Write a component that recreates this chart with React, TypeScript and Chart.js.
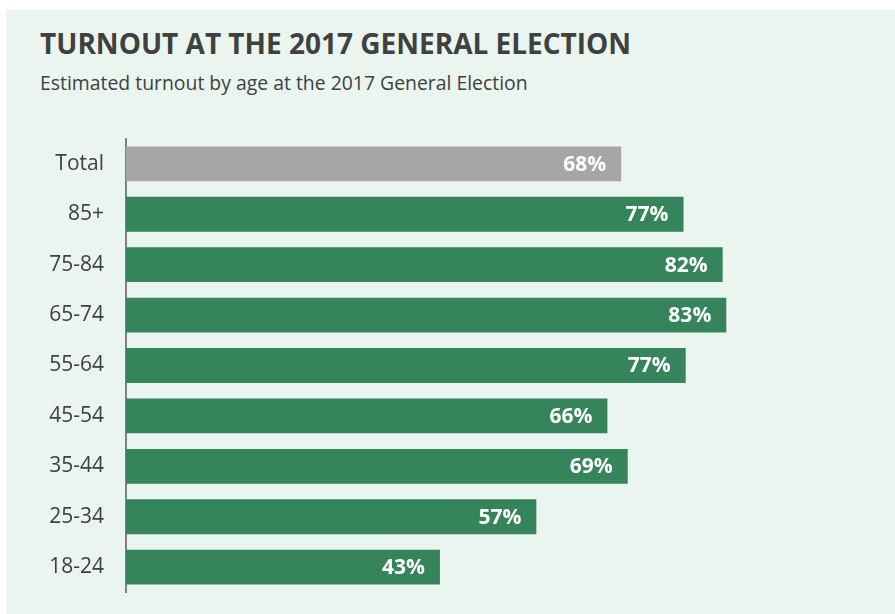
import React, { useEffect, useRef } from "react";
import { Chart, registerables } from "chart.js";

Chart.register(...registerables);

const categories: string[] = ["Total", "85+", "75-84", "65-74", "55-64", "45-54", "35-44", "25-34", "18-24"];
const turnout: number[] = [68.3, 76.9, 82.3, 82.8, 77.2, 66.4, 69.2, 56.6, 43.3];
const barColors: string[] = ["#A6A6A6", "#35845B", "#35845B", "#35845B", "#35845B", "#35845B", "#35845B", "#35845B", "#35845B"];
const titleText = "TURNOUT AT THE 2017 GENERAL ELECTION";
const subtitleText = "Estimated turnout by age at the 2017 General Election";

const FONT = "'Open Sans', sans-serif";

const valueLabels = {
  id: "valueLabels",
  afterDatasetsDraw(chart: any) {
    const ctx = chart.ctx;
    const meta = chart.getDatasetMeta(0);
    ctx.save();
    ctx.fillStyle = "#FFFFFF";
    ctx.font = `bold 21px ${FONT}`;
    ctx.textAlign = "right";
    ctx.textBaseline = "middle";
    meta.data.forEach((bar: any, i: number) => {
      const v = chart.data.datasets[0].data[i] as number;
      ctx.fillText(`${Math.round(v)}%`, bar.x - 15, bar.y + 1);
    });
    ctx.restore();
  },
};

export default function App() {
  const ref = useRef<HTMLCanvasElement | null>(null);

  useEffect(() => {
    if (!ref.current) return;
    const chart = new Chart(ref.current, {
      type: "bar",
      data: {
        labels: categories,
        datasets: [
          {
            data: turnout,
            backgroundColor: barColors,
            borderWidth: 0,
            barPercentage: 0.69,
            categoryPercentage: 1,
          },
        ],
      },
      options: {
        indexAxis: "y",
        animation: false,
        responsive: false,
        maintainAspectRatio: false,
        layout: { padding: { left: 0, right: 44, top: 0, bottom: 0 } },
        plugins: {
          legend: { display: false },
          tooltip: { enabled: false },
        },
        scales: {
          x: {
            display: false,
            min: 0,
            max: 100,
          },
          y: {
            grid: { display: false, drawTicks: false },
            border: { display: true, color: "#808080", width: 2 },
            ticks: {
              color: "#404040",
              font: { family: FONT, size: 21 },
              padding: 22,
            },
            afterFit(scale: any) {
              scale.width = 120;
            },
          },
        },
      },
      plugins: [valueLabels],
    });
    return () => chart.destroy();
  }, []);

  return (
    <div style={{ position: "absolute", left: 0, top: 0, width: 895, height: 614, background: "#FFFFFF", overflow: "hidden" }}>
      <div style={{ position: "absolute", left: 6, top: 10, width: 889, height: 604, background: "#EBF5EF" }}>
        <div
          style={{
            position: "absolute",
            left: 34,
            top: 19,
            fontFamily: FONT,
            fontWeight: 700,
            fontSize: 28,
            lineHeight: 1,
            color: "#404040",
            whiteSpace: "nowrap",
          }}
        >
          {titleText}
        </div>
        <div
          style={{
            position: "absolute",
            left: 34,
            top: 63,
            fontFamily: FONT,
            fontSize: 19.4,
            lineHeight: 1,
            color: "#404040",
            whiteSpace: "nowrap",
          }}
        >
          {subtitleText}
        </div>
        <canvas ref={ref} width={889} height={523} style={{ position: "absolute", left: 0, top: 94, width: 889, height: 523 }} />
      </div>
    </div>
  );
}
